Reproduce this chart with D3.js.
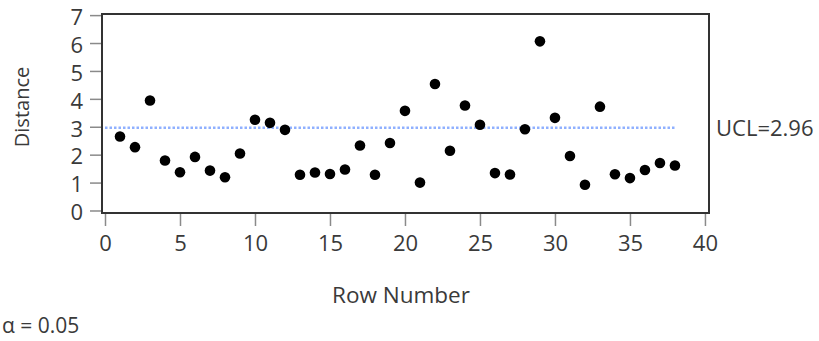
<!DOCTYPE html>
<html>
<head>
<meta charset="utf-8">
<script src="https://cdn.jsdelivr.net/npm/d3@7"></script>
<style>
  body { margin: 0; background: #fff; }
  svg text { font-family: "Open Sans", "Noto Sans", sans-serif; fill: #3a3a3a; }
</style>
</head>
<body>
<svg id="chart" width="819" height="341"></svg>
<script>
// row numbers 1..38 and the distance
let rows = d3.range(1, 39)
let distances = [2.65, 2.27, 3.94, 1.79, 1.37, 1.92, 1.43, 1.19, 2.04, 3.25,
                 3.14, 2.89, 1.28, 1.36, 1.31, 1.47, 2.33, 1.28, 2.42, 3.57,
                 1.00, 4.53, 2.14, 3.76, 3.07, 1.34, 1.29, 2.91, 6.06, 3.32,
                 1.95, 0.92, 3.72, 1.30, 1.16, 1.45, 1.70, 1.61]
let xTicks = [0, 5, 10, 15, 20, 25, 30, 35, 40]
let yTicks = [0, 1, 2, 3, 4, 5, 6, 7]
let ucl = 2.96
let alpha = 0.05

let svg = d3.select("#chart")

let plotLeft = 102, plotRight = 709, plotTop = 14, plotBottom = 213

let x = d3.scaleLinear().domain([-0.2, 40.27]).range([plotLeft, plotRight])
let y = d3.scaleLinear().domain([-0.09, 7.04]).range([plotBottom, plotTop])

// y axis
let yAxis = svg.append('g')
    .attr('transform', `translate(${plotLeft},0)`)
    .call(d3.axisLeft(y).tickValues(yTicks).tickSize(12).tickPadding(7))
yAxis.select('.domain').remove()
yAxis.selectAll('line').attr('stroke', '#8a8a8a').attr('stroke-width', 1.5)
yAxis.selectAll('text').style('font-size', '22px').attr('dy', '0.42em')

// x axis
let xAxis = svg.append('g')
    .attr('transform', `translate(0,${plotBottom})`)
    .call(d3.axisBottom(x).tickValues(xTicks).tickSize(13).tickPadding(9))
xAxis.select('.domain').remove()
xAxis.selectAll('line').attr('stroke', '#8a8a8a').attr('stroke-width', 1.5)
xAxis.selectAll('text').style('font-size', '22px')

// frame
svg.append('rect')
    .attr('x', plotLeft)
    .attr('y', plotTop)
    .attr('width', plotRight - plotLeft)
    .attr('height', plotBottom - plotTop)
    .attr('fill', 'none')
    .attr('stroke', '#333')
    .attr('stroke-width', 2)

// control limit
svg.append('line')
    .attr('x1', x(0))
    .attr('x2', x(38))
    .attr('y1', y(ucl))
    .attr('y2', y(ucl))
    .attr('stroke', '#8fb0ff')
    .attr('stroke-width', 2.5)
    .attr('stroke-dasharray', '2.5,2')

svg.append('text')
    .attr('x', 716)
    .attr('y', y(ucl))
    .attr('dy', '0.36em')
    .style('font-size', '22px')
    .text('UCL=' + ucl)

// points
svg.selectAll('circle')
    .data(rows)
    .enter()
    .append('circle')
    .attr('cx', (d) => x(d))
    .attr('cy', (d, i) => y(distances[i]))
    .attr('r', 5.3)
    .attr('fill', '#000')

// titles
svg.append('text')
    .attr('transform', 'translate(29,107) rotate(-90)')
    .attr('text-anchor', 'middle')
    .style('font-size', '20px')
    .text('Distance')

svg.append('text')
    .attr('x', 401)
    .attr('y', 303)
    .attr('text-anchor', 'middle')
    .style('font-size', '22.5px')
    .text('Row Number')

svg.append('text')
    .attr('x', 2)
    .attr('y', 333)
    .style('font-size', '21px')
    .text('\u03b1 = ' + alpha)
</script>
</body>
</html>
